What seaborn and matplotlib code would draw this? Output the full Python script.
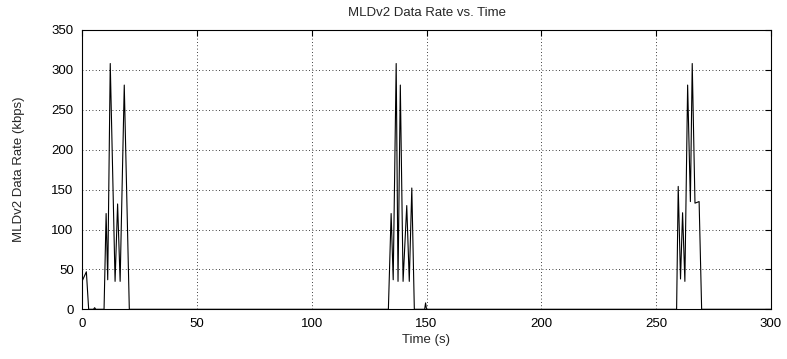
import matplotlib
matplotlib.use("Agg")
import matplotlib.pyplot as plt
import seaborn as sns
import pandas as pd

time_s = [0, 1.9, 2.9, 5.0, 5.5, 6.0, 9.6, 10.5, 11.2, 12.3, 14.4, 15.5, 16.6, 18.4, 20.6,
          133.4, 134.6, 135.5, 136.8, 137.6, 138.6, 139.8, 141.4, 142.5, 143.6, 144.7,
          149.2, 149.6, 150.0,
          258.9, 259.6, 260.6, 261.5, 262.5, 263.7, 264.9, 265.7, 266.9, 268.7, 269.8, 300]
rate_kbps = [35, 47, 0, 0, 2, 0, 0, 120, 37, 308, 35, 132, 35, 281, 0,
             0, 120, 37, 308, 35, 281, 35, 130, 35, 152, 0,
             0, 8, 0,
             0, 154, 38, 121, 35, 281, 135, 308, 133, 135, 0, 0]

x_ticks = [0, 50, 100, 150, 200, 250, 300]
y_ticks = [0, 50, 100, 150, 200, 250, 300, 350]

sns.set_style("white")
plt.rcParams['font.family'] = ['Liberation Sans', 'DejaVu Sans']

df = pd.DataFrame({"Time (s)": time_s, "MLDv2 Data Rate (kbps)": rate_kbps})

fig = plt.figure(figsize=(7.87, 3.59), dpi=100)
ax = fig.add_axes([82/787, 1-309.3/359, (771-82)/787, (309.3-30)/359])
sns.lineplot(data=df, x="Time (s)", y="MLDv2 Data Rate (kbps)", ax=ax,
             color="black", linewidth=0.8, estimator=None, sort=False)

ax.set_xlim(0, 300)
ax.set_ylim(0, 350)
ax.set_xticks(x_ticks)
ax.set_yticks(y_ticks)
ax.grid(True, color="black", linestyle=(0, (1, 3)), linewidth=0.6)
ax.tick_params(direction="in", length=4, width=0.8, top=True, right=True,
               labelsize=9.5, colors="black", pad=6)
for s in ax.spines.values():
    s.set_color("black")
    s.set_linewidth(0.8)
    s.set_visible(True)
ax.set_xlabel("Time (s)", fontsize=9.5, labelpad=3)
ax.set_ylabel("MLDv2 Data Rate (kbps)", fontsize=9.5, labelpad=19)
ax.set_title("MLDv2 Data Rate vs. Time", fontsize=9.5, pad=10)

fig.savefig("out.png", dpi=100)
